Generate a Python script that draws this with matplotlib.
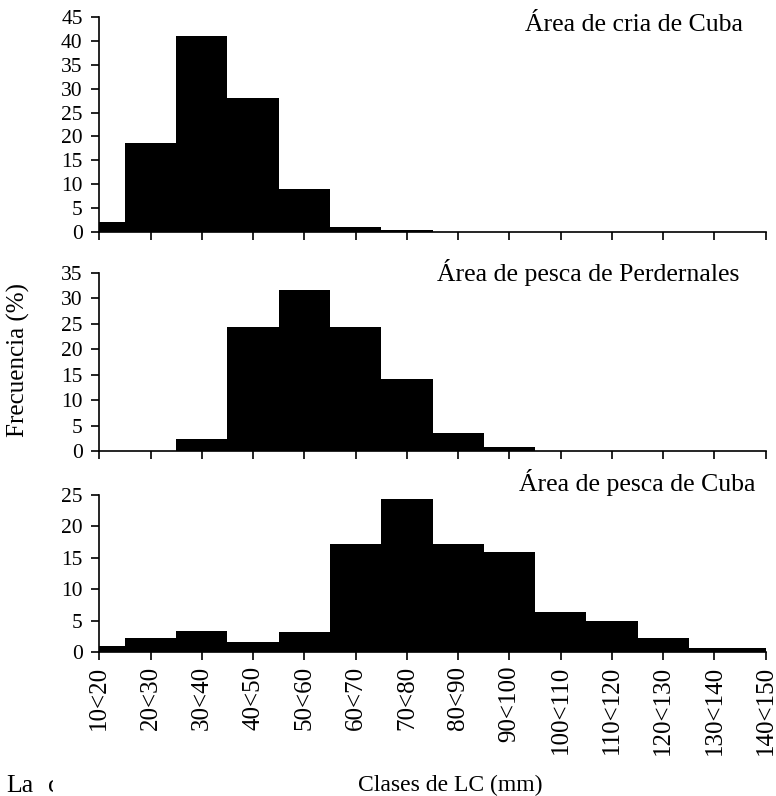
import matplotlib
matplotlib.use("Agg")
import matplotlib.pyplot as plt
from matplotlib.transforms import Bbox, TransformedBbox

plt.rcParams['font.family'] = ['Liberation Serif', 'DejaVu Serif']

# size classes (mm) and frequency (%) per area
classes = ['10<20', '20<30', '30<40', '40<50', '50<60', '60<70', '70<80',
           '80<90', '90<100', '100<110', '110<120', '120<130', '130<140', '140<150']
cria_cuba = [2.1, 18.6, 41.0, 28.1, 9.0, 1.0, 0.5, 0, 0, 0, 0, 0, 0, 0]
pesca_perdernales = [0, 0, 2.4, 24.3, 31.7, 24.3, 14.1, 3.5, 0.85, 0, 0, 0, 0, 0]
pesca_cuba = [1.0, 2.2, 3.4, 1.6, 3.2, 17.2, 24.4, 17.2, 15.9, 6.45, 5.0, 2.2, 0.65, 0.65]

titles = ['Área de cria de Cuba', 'Área de pesca de Perdernales', 'Área de pesca de Cuba']
y_max = [45, 35, 25]

fig = plt.figure(figsize=(7.76, 7.96), dpi=100)

# axes boxes (left, bottom, width, height) in figure fraction
boxes = [(0.128, 0.7082, 0.8588, 0.2708),
         (0.128, 0.4334, 0.8588, 0.2240),
         (0.128, 0.1805, 0.8588, 0.1976)]
title_pos = [(0.966, 0.935), (0.960, 0.955), (0.985, 1.025)]

series = [cria_cuba, pesca_perdernales, pesca_cuba]
x = list(range(len(classes)))

for i, (vals, box) in enumerate(zip(series, boxes)):
    ax = fig.add_axes(box)
    ax.bar(x, vals, width=1.0, color='black', edgecolor='none', align='center')
    ax.set_xlim(0, len(classes) - 1)
    ax.set_ylim(0, y_max[i])
    ax.set_yticks(range(0, y_max[i] + 1, 5))
    ax.set_xticks(x)
    for side in ['top', 'right']:
        ax.spines[side].set_visible(False)
    for side in ['left', 'bottom']:
        ax.spines[side].set_linewidth(1.2)
    ax.tick_params(axis='both', direction='out', length=5.5, width=1.2,
                   labelsize=15.5, colors='black')
    ax.tick_params(axis='y', pad=6.5)
    if i < 2:
        ax.set_xticklabels([])
    else:
        ax.set_xticklabels(classes, rotation=90, fontsize=18, va='top', ha='center')
        ax.tick_params(axis='x', pad=4)
    tx, ty = title_pos[i]
    ax.text(tx, ty, titles[i], transform=ax.transAxes, ha='right', va='baseline',
            fontsize=18.5)

fig.text(18 / 776, 1 - 360 / 796, 'Frecuencia (%)', rotation=90, ha='center',
         va='center', fontsize=18)
fig.text(450 / 776, 1 - 791 / 796, 'Clases de LC (mm)', ha='center', va='baseline',
         fontsize=17)

# cut-off fragment of the surrounding page text
fig.text(6.7 / 776, 1 - 791.7 / 796, 'La', ha='left', va='baseline', fontsize=18.5)
frag = fig.text(47.7 / 776, 1 - 791.7 / 796, 'c', ha='left', va='baseline', fontsize=18.5)
frag.set_clip_box(TransformedBbox(Bbox.from_bounds(0, 0, 53.3 / 776, 0.1), fig.transFigure))
frag.set_clip_on(True)

fig.savefig('out.png', dpi=100)
